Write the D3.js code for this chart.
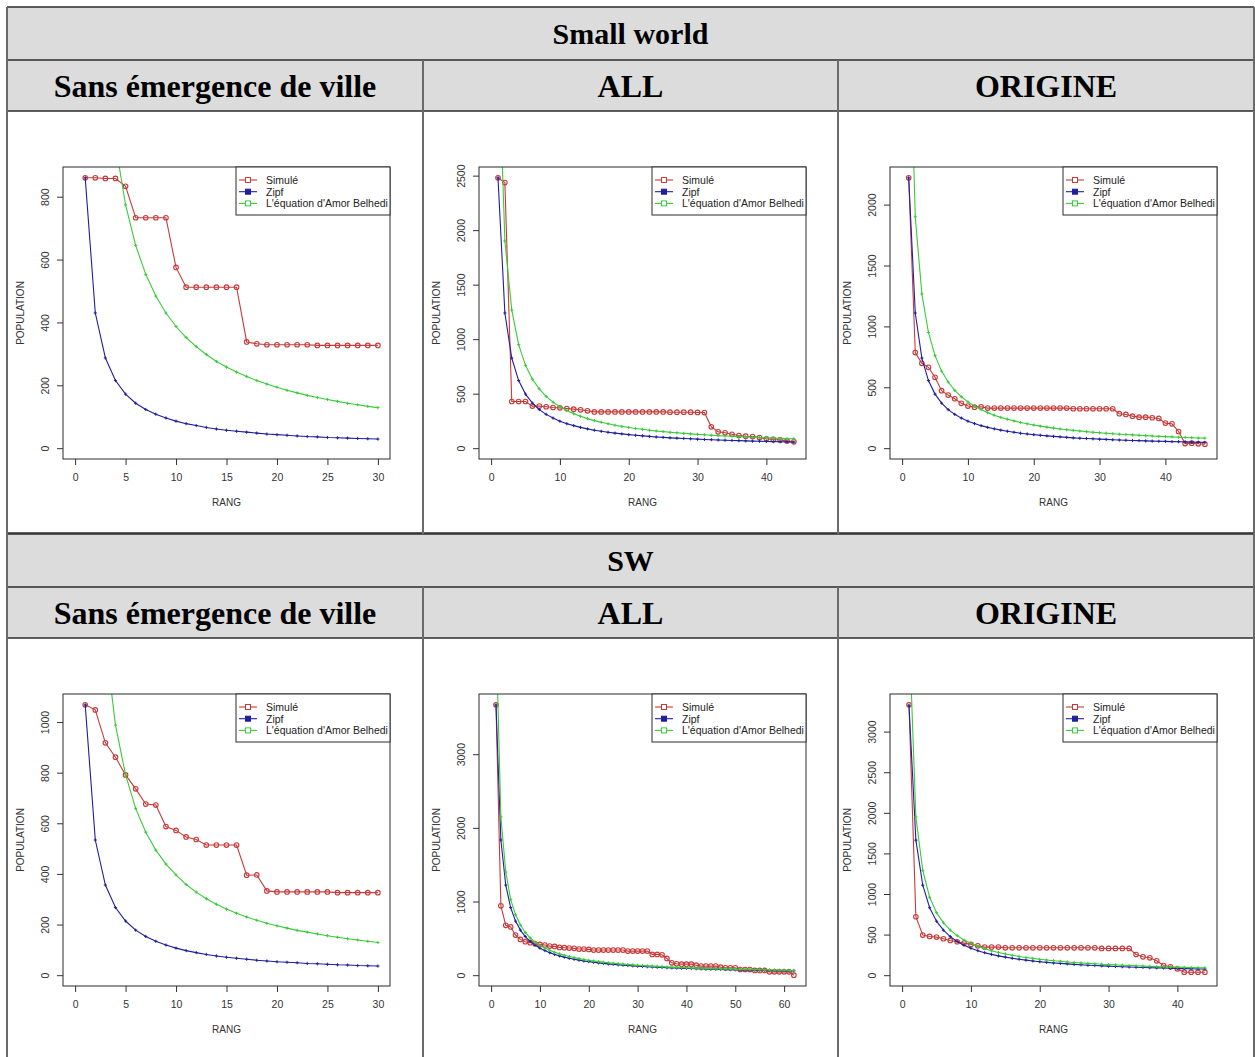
<!DOCTYPE html>
<html>
<head>
<meta charset="utf-8">
<script src="https://cdn.jsdelivr.net/npm/d3@7"></script>
<style>
  body { margin: 0; background: #fff; }
</style>
</head>
<body>
<script>
// ---- table labels ----
const blockTitles = ["Small world", "SW"];
const colTitles = ["Sans émergence de ville", "ALL", "ORIGINE"];
const legendLabels = ["Simulé", "Zipf", "L'équation d'Amor Belhedi"];

// ---- Small world / Sans émergence de ville (rank 1..30) ----
const simA = [860,860,858,858,833,733,733,733,733,575,512,512,512,512,512,512,338,332,329,329,329,329,329,327,327,327,327,327,327,327];
const zipfA = [860,430,287,215,172,143,123,108,96,86,78,72,66,61,57,54,51,48,45,43,41,39,37,36,34,33,32,31,30,29];
const belA = [3870,1935,1290,968,774,645,553,484,430,387,352,323,298,276,258,242,228,215,204,194,184,176,168,161,155,149,143,138,133,129];
const xTicksA = [0,5,10,15,20,25,30];
const yTicksA = [0,200,400,600,800];

// ---- Small world / ALL (rank 1..44) ----
const simB = [2480,2436,428,428,428,386,386,380,373,370,364,358,352,343,333,333,333,333,333,333,333,333,333,333,333,330,330,330,330,328,327,196,150,141,128,116,110,107,98,86,80,76,67,58];
const zipfB = [2480,1240,827,620,496,413,354,310,276,248,225,207,191,177,165,155,146,138,131,124,118,113,108,103,99,95,92,89,86,83,80,78,75,73,71,69,67,65,64,62,60,59,58,56];
const belB = [3800,1900,1267,950,760,633,543,475,422,380,345,317,292,271,253,238,224,211,200,190,181,173,165,158,152,146,141,136,131,127,123,119,115,112,109,106,103,100,97,95,93,90,88,86];
const xTicksB = [0,10,20,30,40];
const yTicksB = [0,500,1000,1500,2000,2500];

// ---- Small world / ORIGINE (rank 1..46) ----
const simC = [2220,785,697,664,582,472,436,406,368,346,337,340,329,329,329,329,329,329,329,329,329,329,329,329,329,324,324,324,324,324,324,324,283,277,263,255,255,250,244,206,200,137,38,41,36,33];
const zipfC = [2220,1110,740,555,444,370,317,278,247,222,202,185,171,159,148,139,131,123,117,111,106,101,97,93,89,85,82,79,77,74,72,69,67,65,63,62,60,58,57,56,54,53,52,50,49,48];
const belC = [3800,1900,1267,950,760,633,543,475,422,380,345,317,292,271,253,238,224,211,200,190,181,173,165,158,152,146,141,136,131,127,123,119,115,112,109,106,103,100,97,95,93,90,88,86,84,83];
const xTicksC = [0,10,20,30,40];
const yTicksC = [0,500,1000,1500,2000];

// ---- SW / Sans émergence de ville (rank 1..30) ----
const simD = [1068,1048,918,861,791,736,676,672,587,572,546,536,514,514,514,514,395,396,333,329,329,329,329,329,329,326,326,326,326,326];
const zipfD = [1068,534,356,267,214,178,153,134,119,107,97,89,82,76,71,67,63,59,56,53,51,49,46,45,43,41,40,38,37,36];
const belD = [3950,1975,1317,988,791,659,565,494,439,396,358,328,302,280,261,245,230,217,205,195,186,177,170,163,156,150,144,139,134,129];
const xTicksD = [0,5,10,15,20,25,30];
const yTicksD = [0,200,400,600,800,1000];

// ---- SW / ALL (rank 1..62) ----
const simE = [3670,941,677,655,545,486,455,441,427,418,409,395,391,377,373,368,364,355,355,350,341,341,341,341,341,341,341,327,327,327,327,327,282,282,277,227,168,155,150,150,150,136,123,123,123,123,109,100,100,100,77,77,77,64,64,64,45,45,45,45,45,0];
const zipfE = [3670,1835,1223,918,734,612,524,459,408,367,334,306,282,262,245,229,216,204,193,184,175,167,160,153,147,141,136,131,127,122,118,115,111,108,105,102,99,97,94,92,90,87,85,83,82,80,78,76,75,73,72,71,69,68,67,66,64,63,62,61,60,59];
const belE = [4700,2150,1400,1030,820,680,580,505,450,405,368,337,311,289,270,253,238,225,213,202,193,184,176,169,162,156,150,145,140,135,131,127,123,119,116,112,109,107,104,101,99,96,94,92,90,88,86,84,83,81,79,78,76,75,74,72,71,70,69,68,66,65];
const xTicksE = [0,10,20,30,40,50,60];
const yTicksE = [0,1000,2000,3000];

// ---- SW / ORIGINE (rank 1..44) ----
const simF = [3330,720,494,477,469,449,428,412,395,379,362,346,346,346,337,337,337,337,337,337,337,337,337,337,337,337,337,337,329,329,329,329,329,255,226,214,177,119,103,78,37,37,37,37];
const zipfF = [3325,1663,1108,831,665,554,475,416,369,333,302,277,256,238,222,208,196,185,175,166,158,151,145,139,133,128,123,119,115,111,107,104,101,98,95,92,90,88,85,83,81,79,77,76];
const belF = [4300,1950,1290,960,770,645,555,487,433,390,355,326,301,280,261,245,231,218,207,196,187,178,171,163,157,151,145,140,135,131,127,123,119,116,112,109,106,104,101,99,96,94,92,90];
const xTicksF = [0,10,20,30,40];
const yTicksF = [0,500,1000,1500,2000,2500,3000];

const charts = [
    {block: 0, col: 0, sim: simA, zipf: zipfA, bel: belA, xTicks: xTicksA, yTicks: yTicksA},
    {block: 0, col: 1, sim: simB, zipf: zipfB, bel: belB, xTicks: xTicksB, yTicks: yTicksB},
    {block: 0, col: 2, sim: simC, zipf: zipfC, bel: belC, xTicks: xTicksC, yTicks: yTicksC},
    {block: 1, col: 0, sim: simD, zipf: zipfD, bel: belD, xTicks: xTicksD, yTicks: yTicksD},
    {block: 1, col: 1, sim: simE, zipf: zipfE, bel: belE, xTicks: xTicksE, yTicks: yTicksE},
    {block: 1, col: 2, sim: simF, zipf: zipfF, bel: belF, xTicks: xTicksF, yTicks: yTicksF}
];

// colours (R: red3 / navy / green)
const RED = "#c83a3a", BLUE = "#1f1f9e", GREEN = "#3acb3a";

const W = 1255, H = 1057;
const svg = d3.select("body").append("svg")
    .attr("width", W)
    .attr("height", H)
    .style("display", "block");

svg.append("rect").attr("width", W).attr("height", H).attr("fill", "#fff");

//////////// TABLE ////////////
const colX = [7, 423, 838, 1254];
const blockTop = [7, 534];
const titleH = 53, headH = 51, chartH = 422;
const serif = "'Liberation Serif', 'Times New Roman', serif";
const sans = "'Liberation Sans', Arial, sans-serif";

blockTop.forEach((t, b) => {
    // grey header rows
    svg.append("rect")
        .attr("x", colX[0]).attr("y", t)
        .attr("width", colX[3] - colX[0]).attr("height", titleH + headH)
        .attr("fill", "#dcdcdc");

    svg.append("text")
        .attr("x", (colX[0] + colX[3]) / 2)
        .attr("y", t + titleH / 2 + 10)
        .attr("text-anchor", "middle")
        .attr("font-family", serif)
        .attr("font-weight", "bold")
        .attr("font-size", 30)
        .attr("fill", "#000")
        .text(blockTitles[b]);

    colTitles.forEach((s, i) => {
        svg.append("text")
            .attr("x", (colX[i] + colX[i + 1]) / 2)
            .attr("y", t + titleH + headH / 2 + 11)
            .attr("text-anchor", "middle")
            .attr("font-family", serif)
            .attr("font-weight", "bold")
            .attr("font-size", 32)
            .attr("fill", "#000")
            .text(s);
    });
});

// grid lines
const hLines = [];
blockTop.forEach(t => { hLines.push(t, t + titleH, t + titleH + headH); });
hLines.push(blockTop[0] + titleH + headH + chartH);
svg.append("g").selectAll("line")
    .data(hLines)
    .join("line")
    .attr("x1", colX[0]).attr("x2", colX[3])
    .attr("y1", d => d).attr("y2", d => d)
    .attr("stroke", "#2b2b2b")
    .attr("stroke-width", 1.5);

// outer verticals
[colX[0], colX[3]].forEach(xv => {
    svg.append("line")
        .attr("x1", xv).attr("x2", xv)
        .attr("y1", blockTop[0]).attr("y2", H)
        .attr("stroke", "#6a6a6a").attr("stroke-width", 2);
});
// column dividers (not through the title rows)
blockTop.forEach((t, b) => {
    const y2 = b === 0 ? blockTop[1] : H;
    [colX[1], colX[2]].forEach(xv => {
        svg.append("line")
            .attr("x1", xv).attr("x2", xv)
            .attr("y1", t + titleH).attr("y2", y2)
            .attr("stroke", "#6a6a6a").attr("stroke-width", 2);
    });
});

//////////// PLOTS ////////////
const plotLeft = [63, 479, 890];
const plotW = 327, plotH = 292, plotOffsetY = 56;
const fmt = d3.format("d");

charts.forEach((c, ci) => {
    const left = plotLeft[c.col];
    const top = blockTop[c.block] + titleH + headH + plotOffsetY;
    const n = c.sim.length;
    const ymax = d3.max(c.sim.concat(c.zipf));

    // R style 4% axis extension
    const x = d3.scaleLinear().domain([-0.04 * n, 1.04 * n]).range([0, plotW]);
    const y = d3.scaleLinear().domain([-0.04 * ymax, 1.04 * ymax]).range([plotH, 0]);

    const g = svg.append("g").attr("transform", `translate(${left},${top})`);

    g.append("clipPath").attr("id", "clip" + ci)
        .append("rect").attr("width", plotW).attr("height", plotH);

    // axes
    const xAxis = g.append("g")
        .attr("transform", `translate(0,${plotH})`)
        .call(d3.axisBottom(x).tickValues(c.xTicks).tickFormat(fmt).tickSize(6).tickPadding(9));
    const yAxis = g.append("g")
        .call(d3.axisLeft(y).tickValues(c.yTicks).tickFormat(fmt).tickSize(6));

    [xAxis, yAxis].forEach(a => {
        a.select(".domain").remove();
        a.attr("color", "#333")
            .attr("font-family", sans)
            .attr("font-size", 10.5);
        a.selectAll("text").attr("fill", "#333");
    });
    yAxis.selectAll("text")
        .attr("transform", "rotate(-90)")
        .attr("x", 0)
        .attr("y", -14)
        .attr("dy", 0)
        .style("text-anchor", "middle");

    g.append("text")
        .attr("x", plotW / 2).attr("y", plotH + 47)
        .attr("text-anchor", "middle")
        .attr("font-family", sans).attr("font-size", 10)
        .attr("fill", "#333")
        .text("RANG");
    g.append("text")
        .attr("transform", `translate(-39,${plotH / 2}) rotate(-90)`)
        .attr("text-anchor", "middle")
        .attr("font-family", sans).attr("font-size", 10)
        .attr("fill", "#333")
        .text("POPULATION");

    const line = d3.line()
        .x((d, i) => x(i + 1))
        .y(d => y(d));

    const inner = g.append("g").attr("clip-path", `url(#clip${ci})`);

    // Simulé: line + open circles
    inner.append("path").datum(c.sim)
        .attr("d", line).attr("fill", "none")
        .attr("stroke", RED).attr("stroke-width", 1.1);
    inner.append("g").selectAll("circle")
        .data(c.sim)
        .join("circle")
        .attr("cx", (d, i) => x(i + 1))
        .attr("cy", d => y(d))
        .attr("r", 2.3)
        .attr("fill", "none")
        .attr("stroke", RED)
        .attr("stroke-width", 1.1);

    // Zipf and Belhedi: line + tiny crosses
    [[c.zipf, BLUE], [c.bel, GREEN]].forEach(([vals, col]) => {
        inner.append("path").datum(vals)
            .attr("d", line).attr("fill", "none")
            .attr("stroke", col).attr("stroke-width", 1.1);
        inner.append("g").selectAll("path")
            .data(vals)
            .join("path")
            .attr("d", (d, i) => {
                const px = x(i + 1), py = y(d);
                return `M${px - 1.6},${py}H${px + 1.6}M${px},${py - 1.6}V${py + 1.6}`;
            })
            .attr("stroke", col)
            .attr("stroke-width", 1);
    });

    // box
    g.append("rect")
        .attr("width", plotW).attr("height", plotH)
        .attr("fill", "none")
        .attr("stroke", "#2b2b2b").attr("stroke-width", 1);

    // legend
    const lw = 154, lh = 48;
    const lg = g.append("g").attr("transform", `translate(${plotW - lw},0)`);
    lg.append("rect")
        .attr("width", lw).attr("height", lh)
        .attr("fill", "#fff")
        .attr("stroke", "#2b2b2b").attr("stroke-width", 1);
    const legendItems = [
        {label: legendLabels[0], color: RED, filled: false},
        {label: legendLabels[1], color: BLUE, filled: true},
        {label: legendLabels[2], color: GREEN, filled: false}
    ];
    legendItems.forEach((it, i) => {
        const ly = 13 + i * 11.7;
        lg.append("line")
            .attr("x1", 3).attr("x2", 21)
            .attr("y1", ly).attr("y2", ly)
            .attr("stroke", it.color).attr("stroke-width", 1.1);
        lg.append("rect")
            .attr("x", 9.5).attr("y", ly - 2.5)
            .attr("width", 5).attr("height", 5)
            .attr("fill", it.filled ? it.color : "#fff")
            .attr("stroke", it.color).attr("stroke-width", 1);
        lg.append("text")
            .attr("x", 30).attr("y", ly + 3.8)
            .attr("font-family", sans).attr("font-size", 10.5)
            .attr("fill", "#222")
            .text(it.label);
    });
});
</script>
</body>
</html>
